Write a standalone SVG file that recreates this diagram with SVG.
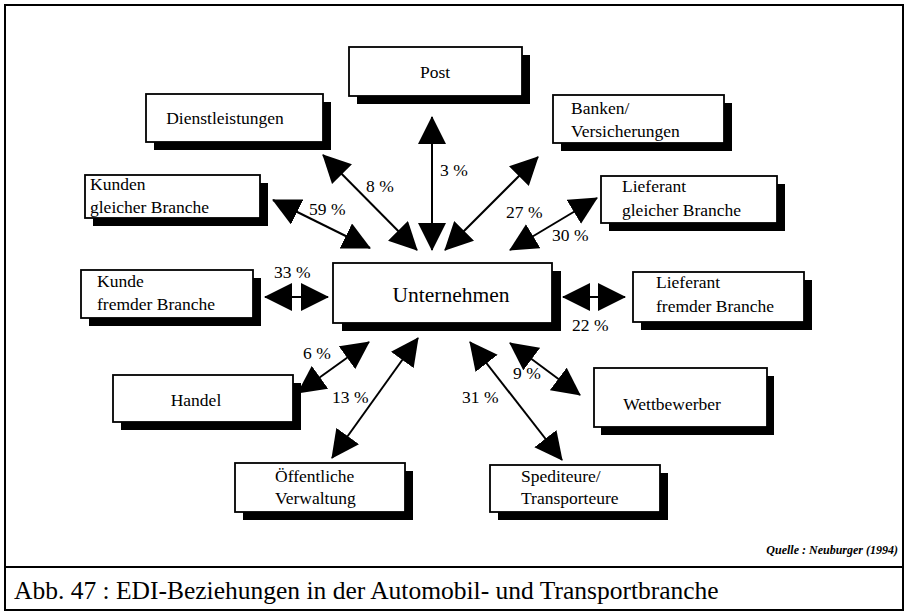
<svg xmlns="http://www.w3.org/2000/svg" width="905" height="612" viewBox="0 0 905 612">
  <style>
    .frame { fill: none; stroke: #000; stroke-width: 2; }
    .shadow { fill: #000; }
    .box { fill: #fff; stroke: #000; stroke-width: 1.8; }
    .lbl { font-family: "Liberation Serif", "Times New Roman", serif; font-size: 17.5px; fill: #000; }
    .mid { text-anchor: middle; }
    .pct { font-family: "Liberation Serif", "Times New Roman", serif; font-size: 17.5px; fill: #000; }
    .edge { stroke: #000; stroke-width: 2; fill: none; marker-start: url(#head); marker-end: url(#head); }
  </style>
  <defs>
    <marker id="head" viewBox="0 0 28 28" refX="27" refY="14" markerWidth="28" markerHeight="28" markerUnits="userSpaceOnUse" orient="auto-start-reverse">
      <path d="M0,0 L28,14 L0,28 Z" fill="#000"/>
    </marker>
  </defs>

  <rect fill="#fff" x="0" y="0" width="905" height="612"/>
  <!-- outer frame and caption strip -->
  <rect class="frame" x="5" y="5" width="898" height="605"/>
  <line class="frame" x1="5" y1="567" x2="903" y2="567"/>

  <!-- connectors -->
  <g id="connectors">
    <line class="edge" x1="432" y1="117" x2="432" y2="250"/>
    <line class="edge" x1="323" y1="155" x2="417" y2="250"/>
    <line class="edge" x1="538" y1="157" x2="445" y2="250"/>
    <line class="edge" x1="273" y1="200" x2="370" y2="248"/>
    <line class="edge" x1="597" y1="198" x2="510" y2="250"/>
    <line class="edge" x1="265" y1="297" x2="328" y2="297"/>
    <line class="edge" x1="563" y1="297" x2="625" y2="297"/>
    <line class="edge" x1="369" y1="342" x2="298" y2="393"/>
    <line class="edge" x1="418" y1="338" x2="332" y2="458"/>
    <line class="edge" x1="470" y1="342" x2="562" y2="460"/>
    <line class="edge" x1="510" y1="343" x2="580" y2="395"/>
  </g>

  <!-- percentages -->
  <g id="percent-labels">
    <text class="pct" x="440" y="176">3 %</text>
    <text class="pct" x="366" y="192">8 %</text>
    <text class="pct" x="506" y="218">27 %</text>
    <text class="pct" x="309" y="215">59 %</text>
    <text class="pct" x="552" y="241">30 %</text>
    <text class="pct" x="274" y="278">33 %</text>
    <text class="pct" x="572" y="331">22 %</text>
    <text class="pct" x="303" y="359">6 %</text>
    <text class="pct" x="332" y="403">13 %</text>
    <text class="pct" x="462" y="403">31 %</text>
    <text class="pct" x="513" y="379">9 %</text>
  </g>

  <g id="post">
    <rect class="shadow" x="357" y="55" width="173" height="49"/>
    <rect class="box" x="349" y="47" width="173" height="49"/>
    <text class="lbl mid" x="435" y="78">Post</text>
  </g>
  <g id="dienstleistungen">
    <rect class="shadow" x="154" y="102" width="177" height="48"/>
    <rect class="box" x="146" y="94" width="177" height="48"/>
    <text class="lbl mid" x="225" y="124">Dienstleistungen</text>
  </g>
  <g id="kunden-gleicher-branche">
    <rect class="shadow" x="93" y="183" width="175" height="43"/>
    <rect class="box" x="85" y="175" width="175" height="43"/>
    <text class="lbl" x="90" y="190">Kunden</text>
    <text class="lbl" x="90" y="213">gleicher Branche</text>
  </g>
  <g id="banken">
    <rect class="shadow" x="561" y="103" width="171" height="48"/>
    <rect class="box" x="553" y="95" width="171" height="48"/>
    <text class="lbl" x="571" y="114">Banken/</text>
    <text class="lbl" x="571" y="137">Versicherungen</text>
  </g>
  <g id="lieferant-gleicher-branche">
    <rect class="shadow" x="609" y="184" width="176" height="47"/>
    <rect class="box" x="601" y="176" width="176" height="47"/>
    <text class="lbl" x="622" y="192">Lieferant</text>
    <text class="lbl" x="622" y="216">gleicher Branche</text>
  </g>
  <g id="unternehmen">
    <rect class="shadow" x="342" y="271" width="219" height="60"/>
    <rect class="box" x="333" y="263" width="219" height="60"/>
    <text class="lbl mid" x="451" y="302" style="font-size:21.5px">Unternehmen</text>
  </g>
  <g id="kunde-fremder-branche">
    <rect class="shadow" x="89" y="278" width="172" height="48"/>
    <rect class="box" x="81" y="270" width="172" height="48"/>
    <text class="lbl" x="97" y="287">Kunde</text>
    <text class="lbl" x="97" y="310">fremder Branche</text>
  </g>
  <g id="lieferant-fremder-branche">
    <rect class="shadow" x="641" y="280" width="171" height="50"/>
    <rect class="box" x="633" y="272" width="171" height="50"/>
    <text class="lbl" x="656" y="288">Lieferant</text>
    <text class="lbl" x="656" y="312">fremder Branche</text>
  </g>
  <g id="handel">
    <rect class="shadow" x="121" y="383" width="180" height="47"/>
    <rect class="box" x="113" y="375" width="180" height="47"/>
    <text class="lbl mid" x="196" y="406">Handel</text>
  </g>
  <g id="wettbewerber">
    <rect class="shadow" x="601" y="376" width="173" height="59"/>
    <rect class="box" x="594" y="368" width="173" height="59"/>
    <text class="lbl mid" x="672" y="410">Wettbewerber</text>
  </g>
  <g id="oeffentliche-verwaltung">
    <rect class="shadow" x="243" y="471" width="170" height="49"/>
    <rect class="box" x="235" y="463" width="170" height="49"/>
    <text class="lbl" x="275" y="482">Öffentliche</text>
    <text class="lbl" x="275" y="504">Verwaltung</text>
  </g>
  <g id="spediteure">
    <rect class="shadow" x="498" y="473" width="170" height="47"/>
    <rect class="box" x="490" y="465" width="170" height="47"/>
    <text class="lbl" x="521" y="482">Spediteure/</text>
    <text class="lbl" x="521" y="504">Transporteure</text>
  </g>

  <text x="898" y="554" text-anchor="end" style="font-family:'Liberation Serif', serif; font-size:12px; font-style:italic; font-weight:bold">Quelle : Neuburger (1994)</text>
  <text x="14" y="599" style="font-family:'Liberation Serif', serif; font-size:25.5px">Abb. 47 : EDI-Beziehungen in der Automobil- und Transportbranche</text>
</svg>
